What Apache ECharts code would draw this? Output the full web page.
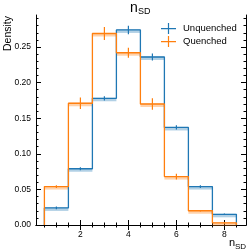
<!DOCTYPE html>
<html>
<head>
<meta charset="utf-8">
<script src="https://cdn.jsdelivr.net/npm/echarts@6/dist/echarts.min.js"></script>
<style>html,body{margin:0;padding:0;background:#fff}#c{width:249px;height:252px}</style>
</head>
<body>
<div id="c"></div>
<script>
// ---- data ----
const binEdges = [0.5, 1.5, 2.5, 3.5, 4.5, 5.5, 6.5, 7.5, 8.5];
const unquenched = [0.024, 0.079, 0.178, 0.274, 0.236, 0.137, 0.054, 0.015];
const unquenchedErr = [0.002, 0.002, 0.003, 0.006, 0.005, 0.003, 0.002, 0.001];
const quenched = [0.054, 0.171, 0.269, 0.242, 0.170, 0.068, 0.020, 0.003];
const quenchedErr = [0.002, 0.008, 0.009, 0.007, 0.008, 0.004, 0.001, 0.001];
const xMajorTicks = [2, 4, 6, 8];
const xMinorTicks = [0.5, 1, 1.5, 2.5, 3, 3.5, 4.5, 5, 5.5, 6.5, 7, 7.5, 8.5];
const yMajorTicks = [0, 0.05, 0.10, 0.15, 0.20, 0.25];
const yMinorTicks = [0.01, 0.02, 0.03, 0.04, 0.06, 0.07, 0.08, 0.09, 0.11, 0.12, 0.13, 0.14,
  0.16, 0.17, 0.18, 0.19, 0.21, 0.22, 0.23, 0.24, 0.26, 0.27, 0.28, 0.29];
const seriesNames = ['Unquenched', 'Quenched'];
const xRange = [0.15, 8.9];
const yRange = [0, 0.295];

const BLUE = '#1f77b4', ORANGE = '#ff7f0e';
const FONT = 'Liberation Sans, Arial, sans-serif';

function stepPoints(vals) {
  const pts = [[binEdges[0], 0]];
  for (let i = 0; i < vals.length; i++) {
    pts.push([binEdges[i], vals[i]]);
    pts.push([binEdges[i + 1], vals[i]]);
  }
  pts.push([binEdges[binEdges.length - 1], 0]);
  return pts;
}
function binData(vals, errs) {
  return vals.map((v, i) => [binEdges[i], binEdges[i + 1], v, errs[i]]);
}
function bandSeries(vals, errs, color) {
  return {
    type: 'custom', silent: true, z: 1,
    data: binData(vals, errs),
    encode: { x: [0, 1], y: 2 },
    renderItem: function (params, api) {
      const a = api.coord([api.value(0), api.value(2) + 0.0007]);
      const b = api.coord([api.value(1), api.value(2) - 0.0042]);
      return { type: 'rect', shape: { x: a[0], y: a[1], width: b[0] - a[0], height: b[1] - a[1] },
        style: { fill: color, opacity: 0.35 } };
    }
  };
}
function errSeries(vals, errs, color) {
  return {
    type: 'custom', silent: true, z: 4,
    data: binData(vals, errs),
    encode: { x: [0, 1], y: 2 },
    renderItem: function (params, api) {
      const c = (api.value(0) + api.value(1)) / 2;
      const a = api.coord([c, api.value(2) + api.value(3)]);
      const b = api.coord([c, api.value(2) - api.value(3)]);
      return { type: 'line', shape: { x1: a[0], y1: a[1], x2: b[0], y2: b[1] },
        style: { stroke: color, lineWidth: 1.2 } };
    }
  };
}
function lineSeries(name, vals, color, z) {
  return {
    name: name, type: 'line', data: stepPoints(vals), symbol: 'none', z: z,
    lineStyle: { color: color, width: 1.3 }, itemStyle: { color: color },
    animation: false, silent: true
  };
}

const common = { min: xRange[0], max: xRange[1], type: 'value', splitLine: { show: false } };
const commonY = { min: yRange[0], max: yRange[1], type: 'value', splitLine: { show: false } };
const axLine = { show: true, lineStyle: { color: '#000', width: 1 } };
const noLabel = { show: false };

const chart = echarts.init(document.getElementById('c'), null, { renderer: 'canvas' });
chart.setOption({
  animation: false,
  grid: { left: 36, right: 3, top: 15, bottom: 27, containLabel: false },
  xAxis: [
    Object.assign({}, common, { position: 'bottom', axisLine: axLine,
      axisTick: { show: true, inside: true, length: 5, customValues: xMajorTicks, lineStyle: { color: '#000' } },
      axisLabel: { customValues: xMajorTicks, margin: 5, fontSize: 8.5, fontFamily: FONT, color: '#000' } }),
    Object.assign({}, common, { position: 'bottom', axisLine: { show: false },
      axisTick: { show: true, inside: true, length: 2.5, customValues: xMinorTicks, lineStyle: { color: '#000' } },
      axisLabel: noLabel }),
    Object.assign({}, common, { position: 'top', axisLine: axLine,
      axisTick: { show: true, inside: true, length: 5, customValues: xMajorTicks, lineStyle: { color: '#000' } },
      axisLabel: noLabel }),
    Object.assign({}, common, { position: 'top', axisLine: { show: false },
      axisTick: { show: true, inside: true, length: 2.5, customValues: xMinorTicks, lineStyle: { color: '#000' } },
      axisLabel: noLabel })
  ],
  yAxis: [
    Object.assign({}, commonY, { position: 'left', axisLine: axLine,
      axisTick: { show: true, inside: true, length: 5, customValues: yMajorTicks, lineStyle: { color: '#000' } },
      axisLabel: { customValues: yMajorTicks, margin: 5, fontSize: 8.5, fontFamily: FONT, color: '#000',
        formatter: v => v.toFixed(2) } }),
    Object.assign({}, commonY, { position: 'left', axisLine: { show: false },
      axisTick: { show: true, inside: true, length: 2.5, customValues: yMinorTicks, lineStyle: { color: '#000' } },
      axisLabel: noLabel }),
    Object.assign({}, commonY, { position: 'right', axisLine: axLine,
      axisTick: { show: true, inside: true, length: 5, customValues: yMajorTicks, lineStyle: { color: '#000' } },
      axisLabel: noLabel }),
    Object.assign({}, commonY, { position: 'right', axisLine: { show: false },
      axisTick: { show: true, inside: true, length: 2.5, customValues: yMinorTicks, lineStyle: { color: '#000' } },
      axisLabel: noLabel })
  ],
  legend: {
    orient: 'vertical', left: 161, top: 23, padding: 0, itemGap: 2,
    itemWidth: 15, itemHeight: 11,
    textStyle: { fontSize: 9.5, fontFamily: FONT, color: '#000', padding: [0, 0, 0, 2] },
    data: seriesNames.map(n => ({ name: n, icon: 'path://M0,5H15V6.2H0Z M6.9,0H8.1V11H6.9Z' }))
  },
  series: [
    bandSeries(unquenched, unquenchedErr, BLUE),
    bandSeries(quenched, quenchedErr, ORANGE),
    lineSeries(seriesNames[0], unquenched, BLUE, 2),
    lineSeries(seriesNames[1], quenched, ORANGE, 3),
    errSeries(unquenched, unquenchedErr, BLUE),
    errSeries(quenched, quenchedErr, ORANGE)
  ],
  graphic: [
    { type: 'text', left: null, x: 130, y: 8, style: { text: 'n', font: '14px ' + FONT, fill: '#000', align: 'left', verticalAlign: 'middle' } },
    { type: 'text', x: 138, y: 11.8, style: { text: 'SD', font: '9px ' + FONT, fill: '#000', align: 'left', verticalAlign: 'middle' } },
    { type: 'text', x: 235, y: 243, style: { text: 'n', font: '11px ' + FONT, fill: '#000', align: 'right', verticalAlign: 'middle' } },
    { type: 'text', x: 246, y: 246.4, style: { text: 'SD', font: '8px ' + FONT, fill: '#000', align: 'right', verticalAlign: 'middle' } },
    { type: 'text', x: 8, y: 16, rotation: Math.PI / 2, style: { text: 'Density', font: '10.5px ' + FONT, fill: '#000', align: 'right', verticalAlign: 'middle' } }
  ]
});
</script>
</body>
</html>
